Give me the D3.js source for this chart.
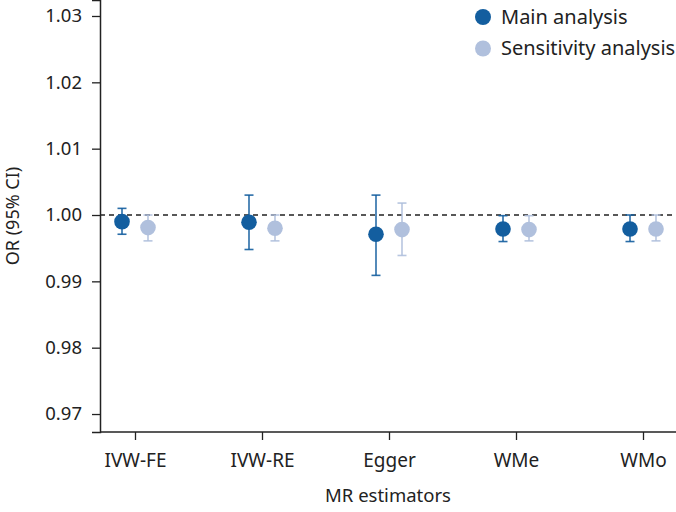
<!DOCTYPE html>
<html><head><meta charset="utf-8">
<script src="https://cdn.jsdelivr.net/npm/d3@7"></script>
<style>body{margin:0;background:#fff}svg{display:block}text{font-family:"Noto Sans",sans-serif;fill:#222}</style>
</head><body><svg id="c" width="676" height="512"></svg>
<script>
const categories = ["IVW-FE","IVW-RE","Egger","WMe","WMo"];
const seriesNames = ["Main analysis","Sensitivity analysis"];
const mainOR   = [0.9990, 0.9989, 0.9971, 0.9979, 0.9979];
const mainLow  = [0.9971, 0.9948, 0.9909, 0.9960, 0.9960];
const mainHigh = [1.0010, 1.0030, 1.0030, 0.9999, 1.0000];
const sensOR   = [0.9981, 0.9980, 0.9978, 0.9978, 0.9979];
const sensLow  = [0.9961, 0.9961, 0.9939, 0.9961, 0.9961];
const sensHigh = [1.0000, 1.0000, 1.0018, 0.9999, 1.0000];
const yTicks = [0.97,0.98,0.99,1.00,1.01,1.02,1.03];
const colors = ["#135e9f","#b0c0dd"];

(function(){
const FONT = "'Noto Sans',sans-serif";
const svg = d3.select("#c");
const mL=100, mB=432, mR=676, mT=0;
const y = d3.scaleLinear().domain([0.96729,1.03241]).range([mB,mT]);
const x = d3.scalePoint().domain(categories).range([135,643]);
const off = d3.scalePoint().domain(seriesNames).range([-13,13]);

svg.append("line").attr("x1",mL).attr("x2",mR).attr("y1",y(1)).attr("y2",y(1))
  .attr("stroke","#222").attr("stroke-width",1.4).attr("stroke-dasharray","5,4");

const series = [
  {name:seriesNames[0], v:mainOR, lo:mainLow, hi:mainHigh, c:colors[0]},
  {name:seriesNames[1], v:sensOR, lo:sensLow, hi:sensHigh, c:colors[1]}
];
series.forEach(s=>{
  const g = svg.append("g");
  categories.forEach((cat,i)=>{
    const cx = x(cat)+off(s.name);
    g.append("line").attr("x1",cx).attr("x2",cx).attr("y1",y(s.lo[i])).attr("y2",y(s.hi[i]))
      .attr("stroke",s.c).attr("stroke-width",1.6).attr("opacity",0.9);
    [s.lo[i],s.hi[i]].forEach(v=>g.append("line").attr("x1",cx-4.5).attr("x2",cx+4.5)
      .attr("y1",y(v)).attr("y2",y(v)).attr("stroke",s.c).attr("stroke-width",1.6).attr("opacity",0.9));
    g.append("circle").attr("cx",cx).attr("cy",y(s.v[i])).attr("r",7.8).attr("fill",s.c);
  });
});

const ya = svg.append("g").attr("transform",`translate(${mL},0)`)
  .call(d3.axisLeft(y).tickValues(yTicks).tickFormat(d3.format(".2f")).tickSizeOuter(0).tickSize(8).tickPadding(10));
ya.select(".domain").attr("stroke","#222").attr("stroke-width",1.5);
ya.selectAll(".tick line").attr("stroke","#222").attr("stroke-width",1.3);
ya.selectAll("text").attr("font-size",18.5).style("font-family",FONT).attr("fill","#222");

const xa = svg.append("g").attr("transform",`translate(0,${mB})`)
  .call(d3.axisBottom(x).tickSizeOuter(0).tickSize(8).tickPadding(14));
xa.select(".domain").attr("d",`M${mL},0H${mR}`).attr("stroke","#222").attr("stroke-width",1.5);
xa.selectAll(".tick line").attr("stroke","#222").attr("stroke-width",1.3);
xa.selectAll("text").attr("font-size",19).style("font-family",FONT).attr("fill","#222");

svg.append("text").attr("x",388).attr("y",502).attr("text-anchor","middle").attr("font-size",18.5).text("MR estimators");
svg.append("text").attr("transform","translate(19,216) rotate(-90)").attr("text-anchor","middle").attr("font-size",18).text("OR (95% CI)");

series.forEach((s,i)=>{
  const ly = 17 + i*31.5;
  svg.append("circle").attr("cx",483).attr("cy",ly).attr("r",8).attr("fill",s.c);
  svg.append("text").attr("x",501).attr("y",ly+6.5).attr("font-size",20).text(s.name);
});
})();
</script></body></html>
